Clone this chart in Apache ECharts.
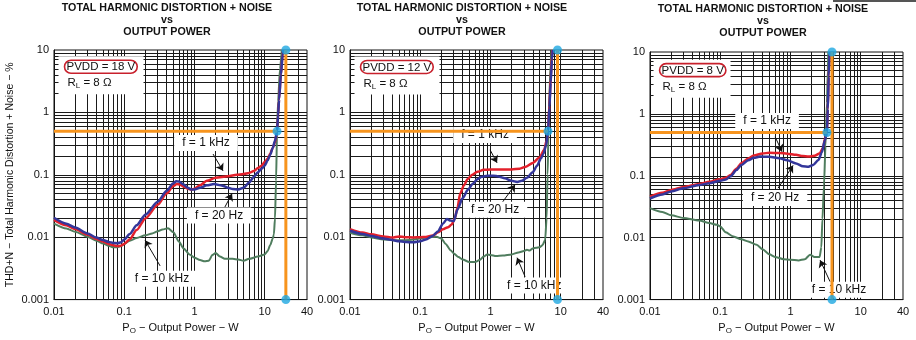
<!DOCTYPE html>
<html><head><meta charset="utf-8">
<script src="https://cdn.jsdelivr.net/npm/echarts@6/dist/echarts.min.js"></script>
<style>html,body{margin:0;padding:0;background:#fff}#c{width:916px;height:340px}</style>
</head><body><div id="c"></div>
<script>
// ---------------- DATA ----------------
const xTicks = [0.01, 0.1, 1, 10, 40];          // Output power, W (log)
const yTicks = [0.001, 0.01, 0.1, 1, 10];       // THD+N, % (log)
const chartTitle = 'TOTAL HARMONIC DISTORTION + NOISE\nvs\nOUTPUT POWER';
const supply = ['18 V', '12 V', '8 V'];
const load = '8 Ω';
const curveNames = ['f = 1 kHz', 'f = 20 Hz', 'f = 10 kHz'];

// PVDD = 18 V
const thd18_1k = [[0.01,0.019],[0.015,0.0155],[0.02,0.0135],[0.03,0.011],[0.04,0.0094],[0.05,0.0085],[0.06,0.0078],[0.07,0.0074],[0.08,0.0072],[0.09,0.0073],[0.1,0.0078],[0.12,0.0093],[0.15,0.013],[0.2,0.02],[0.3,0.033],[0.4,0.05],[0.5,0.066],[0.56,0.071],[0.62,0.07],[0.7,0.065],[0.8,0.06],[0.9,0.058],[1,0.06],[1.2,0.068],[1.5,0.08],[2,0.09],[3,0.095],[4,0.1],[5,0.103],[6,0.107],[7,0.115],[8,0.128],[9,0.14],[10,0.16],[11,0.18],[12,0.22],[13,0.27],[14,0.33],[15,0.5],[15.5,0.9],[16,1.6],[17,4],[18,8.5],[18.4,10]];
const thd18_20 = [[0.01,0.0205],[0.015,0.0165],[0.02,0.0143],[0.03,0.0115],[0.04,0.0099],[0.05,0.009],[0.06,0.0084],[0.07,0.0081],[0.08,0.008],[0.09,0.0083],[0.1,0.0092],[0.12,0.0113],[0.15,0.0155],[0.2,0.023],[0.3,0.037],[0.4,0.055],[0.5,0.073],[0.55,0.079],[0.6,0.078],[0.7,0.07],[0.8,0.062],[0.9,0.058],[1,0.058],[1.2,0.062],[1.5,0.068],[1.9,0.071],[2.5,0.067],[3,0.062],[3.5,0.059],[4.2,0.058],[5,0.062],[6,0.075],[7,0.093],[8,0.11],[9,0.125],[10,0.14],[11,0.17],[12,0.21],[13,0.27],[14,0.35],[15,0.5],[15.5,0.9],[16,1.6],[17,4],[18,8.5],[18.3,10]];
const thd18_10k = [[0.01,0.0165],[0.015,0.0138],[0.02,0.0122],[0.03,0.0102],[0.04,0.0088],[0.05,0.0079],[0.06,0.0073],[0.07,0.0069],[0.08,0.0069],[0.09,0.0072],[0.1,0.0078],[0.12,0.0088],[0.15,0.0097],[0.2,0.0107],[0.25,0.0115],[0.3,0.0124],[0.35,0.0133],[0.42,0.0139],[0.5,0.012],[0.6,0.0085],[0.7,0.0066],[0.85,0.0053],[1,0.0047],[1.2,0.0043],[1.4,0.0041],[1.6,0.0042],[1.8,0.0052],[2,0.0056],[2.3,0.0049],[2.7,0.0045],[3.5,0.0045],[4.2,0.0044],[5,0.0042],[6,0.0045],[8,0.0049],[10,0.0053],[11,0.006],[12,0.0075],[13,0.0095],[13.5,0.011],[14,0.02],[14.5,0.08],[15,0.5],[15.5,1.5],[16.5,5],[17.5,10]];

// PVDD = 12 V
const thd12_1k = [[0.01,0.0135],[0.015,0.0119],[0.02,0.0111],[0.03,0.0103],[0.04,0.0099],[0.05,0.0103],[0.06,0.01],[0.08,0.0099],[0.1,0.01],[0.12,0.0101],[0.15,0.0106],[0.18,0.012],[0.21,0.0134],[0.25,0.0145],[0.28,0.016],[0.31,0.02],[0.34,0.03],[0.37,0.05],[0.42,0.068],[0.47,0.085],[0.55,0.1],[0.65,0.112],[0.8,0.12],[1,0.122],[1.5,0.122],[2,0.122],[2.6,0.125],[3.2,0.135],[4,0.155],[5,0.19],[5.8,0.25],[6.3,0.35],[6.6,0.5],[6.9,1.3],[7.2,3.5],[7.5,8],[7.6,10]];
const thd12_20 = [[0.01,0.0127],[0.015,0.0113],[0.02,0.0105],[0.03,0.0095],[0.04,0.009],[0.05,0.0086],[0.06,0.0084],[0.07,0.0083],[0.08,0.0083],[0.1,0.0086],[0.12,0.0092],[0.15,0.0105],[0.18,0.0125],[0.21,0.0165],[0.24,0.0195],[0.27,0.0185],[0.3,0.018],[0.34,0.028],[0.4,0.042],[0.48,0.058],[0.56,0.072],[0.65,0.085],[0.75,0.093],[0.9,0.097],[1.1,0.097],[1.3,0.094],[1.6,0.088],[2,0.08],[2.4,0.077],[2.8,0.08],[3.3,0.09],[4,0.11],[4.6,0.14],[5.2,0.18],[5.7,0.22],[6.2,0.3],[6.6,0.5],[6.9,1.2],[7.2,3],[7.5,7],[7.7,10]];
const thd12_10k = [[0.01,0.0118],[0.015,0.0107],[0.02,0.0099],[0.03,0.0092],[0.05,0.0089],[0.07,0.009],[0.1,0.0095],[0.13,0.01],[0.17,0.0102],[0.2,0.0095],[0.23,0.0078],[0.27,0.0062],[0.3,0.0055],[0.35,0.0048],[0.4,0.0044],[0.5,0.004],[0.6,0.004],[0.7,0.0043],[0.8,0.0049],[0.9,0.0053],[1,0.0052],[1.2,0.005],[1.5,0.0051],[2,0.0053],[2.5,0.0057],[3,0.006],[3.3,0.0063],[3.6,0.0061],[4,0.0066],[4.5,0.0068],[5,0.0069],[5.5,0.0074],[6,0.009],[6.3,0.02],[6.5,0.1],[6.7,0.5],[6.9,2],[7.2,6],[7.4,10]];

// PVDD = 8 V
const thd8_1k = [[0.01,0.046],[0.015,0.053],[0.02,0.059],[0.03,0.066],[0.05,0.074],[0.07,0.08],[0.1,0.088],[0.12,0.093],[0.14,0.103],[0.17,0.13],[0.2,0.16],[0.25,0.19],[0.3,0.212],[0.4,0.23],[0.5,0.235],[0.7,0.233],[0.9,0.228],[1.2,0.218],[1.5,0.208],[1.8,0.205],[2.2,0.21],[2.6,0.23],[2.9,0.28],[3.1,0.4],[3.3,0.5],[3.4,1.2],[3.5,4],[3.6,10]];
const thd8_20 = [[0.01,0.043],[0.015,0.05],[0.02,0.056],[0.03,0.063],[0.05,0.071],[0.07,0.076],[0.1,0.083],[0.12,0.087],[0.14,0.098],[0.17,0.124],[0.2,0.15],[0.25,0.178],[0.3,0.195],[0.37,0.205],[0.5,0.203],[0.7,0.192],[0.9,0.178],[1.2,0.158],[1.5,0.142],[1.8,0.14],[2.1,0.15],[2.5,0.18],[2.8,0.24],[3.1,0.38],[3.3,0.5],[3.4,1.2],[3.5,4],[3.6,10]];
const thd8_10k = [[0.01,0.03],[0.015,0.026],[0.02,0.023],[0.03,0.0208],[0.05,0.019],[0.07,0.0172],[0.09,0.0162],[0.1,0.0152],[0.12,0.0122],[0.15,0.0106],[0.2,0.0094],[0.25,0.0087],[0.33,0.0077],[0.4,0.0065],[0.5,0.0054],[0.6,0.0049],[0.8,0.0045],[1,0.0044],[1.3,0.0043],[1.6,0.0045],[1.9,0.0053],[2.2,0.0049],[2.6,0.0049],[2.75,0.007],[2.85,0.02],[3,0.07],[3.15,0.3],[3.3,1.5],[3.4,5],[3.45,10]];

// Marked limits
const limitThd = 0.5;                 // %
const limitPower = [20, 9, 3.9];      // W (vertical orange line)
const crossPower = [15, 6.6, 3.3];    // W where curves cross limitThd

// ---------------- LAYOUT / STYLE ----------------
const FONT = '"Liberation Sans", Arial, sans-serif';
const INK = '#111';
const ORANGE = '#f7941d';
const DOT = '#1ea7e1';
const COLORS = {k1: '#e3202b', hz20: '#33369a', k10: '#4f7d5e'};
const gridPos = [
  {left: 54, top: 50, width: 253, height: 251},
  {left: 350, top: 50, width: 253, height: 250},
  {left: 650, top: 52, width: 253, height: 251}
];
const titlePos = [{cx: 167, top: 2}, {cx: 462, top: 2}, {cx: 763, top: 3}];
// Annotation anchors in data coordinates (power W, THD %)
const annot = [
  {box: [0.0467, 3.94], f1k: [1.46, 0.322], a1k: [[1.84, 0.215], [2.55, 0.1156]],
   f20: [2.24, 0.0223], a20: [[2.55, 0.0268], [3.43, 0.0499]],
   f10k: [0.345, 0.00215], a10k: [[0.324, 0.00347], [0.198, 0.00895]]},
  {box: [0.0467, 3.91], f1k: [0.837, 0.436], a1k: [[0.987, 0.251], [1.24, 0.1556]],
   f20: [1.163, 0.0275], a20: [[1.46, 0.0356], [2.24, 0.0692]],
   f10k: [4.2, 0.00168], a10k: [[3.11, 0.00233], [2.39, 0.0047]]},
  {box: [0.0397, 3.71], f1k: [0.464, 0.766], a1k: [[0.604, 0.426], [0.759, 0.2457]],
   f20: [0.604, 0.0438], a20: [[0.666, 0.0632], [1.089, 0.147]],
   f10k: [4.9, 0.00144], a10k: [[3.67, 0.00194], [2.64, 0.00434]]}
];

const curves = [
  [thd18_10k, thd18_1k, thd18_20],
  [thd12_10k, thd12_1k, thd12_20],
  [thd8_10k, thd8_1k, thd8_20]
];
const curveStyle = [
  {name: curveNames[2], color: COLORS.k10, width: 2},
  {name: curveNames[0], color: COLORS.k1, width: 2.5},
  {name: curveNames[1], color: COLORS.hz20, width: 2.5}
];

function logGrid(lo, hi) {
  const out = [];
  for (let e = -4; e <= 2; e++) for (let k = 1; k <= 9; k++) {
    const v = +(k * Math.pow(10, e)).toPrecision(3);
    if (v > lo * 1.0001 && v < hi * 0.9999) out.push(v);
  }
  return out;
}
const fmt = v => String(+(+v).toPrecision(3));

const grid = [], xAxis = [], yAxis = [], series = [], title = [];
for (let i = 0; i < 3; i++) {
  grid.push(Object.assign({show: true, borderColor: INK, borderWidth: 1, backgroundColor: '#fff'}, gridPos[i]));
  title.push({text: chartTitle, left: titlePos[i].cx, top: titlePos[i].top, textAlign: 'center', padding: 0,
    textStyle: {fontFamily: FONT, fontSize: 10.7, fontWeight: 'bold', color: INK, lineHeight: 12}});
  xAxis.push({type: 'log', logBase: 10, gridIndex: i, min: xTicks[0], max: xTicks[xTicks.length - 1],
    axisLine: {show: true, lineStyle: {color: INK, width: 1}}, axisTick: {show: false}, splitLine: {show: false},
    axisLabel: {fontFamily: FONT, fontSize: 11, color: INK, margin: 7, showMinLabel: true, showMaxLabel: true, formatter: fmt},
    name: '{a|P}{s|O}{a| − Output Power − W}', nameLocation: 'middle', nameGap: 19,
    nameTextStyle: {rich: {a: {fontFamily: FONT, fontSize: 11, color: INK}, s: {fontFamily: FONT, fontSize: 8, color: INK, padding: [6, 0, 0, 0]}}}});
  yAxis.push({type: 'log', logBase: 10, gridIndex: i, min: yTicks[0], max: yTicks[yTicks.length - 1],
    axisLine: {show: true, lineStyle: {color: INK, width: 1}}, axisTick: {show: false}, splitLine: {show: false},
    axisLabel: {fontFamily: FONT, fontSize: 11, color: INK, margin: 5, showMinLabel: true, showMaxLabel: true, formatter: fmt},
    name: i === 0 ? 'THD+N − Total Harmonic Distortion + Noise − %' : '', nameLocation: 'middle', nameGap: 38, nameRotate: 90,
    nameTextStyle: {fontFamily: FONT, fontSize: 10.5, color: INK}});

  // log grid lines
  series.push({type: 'line', xAxisIndex: i, yAxisIndex: i, data: [], silent: true, animation: false,
    markLine: {z: 1, silent: true, animation: false, symbol: ['none', 'none'], label: {show: false},
      lineStyle: {color: '#1a1a1a', width: 1, type: 'solid'},
      emphasis: {disabled: true},
      data: [...logGrid(xTicks[0], xTicks[xTicks.length - 1]).map(v => ({xAxis: v})),
             ...logGrid(yTicks[0], yTicks[yTicks.length - 1]).map(v => ({yAxis: v}))]}});

  // curves
  curves[i].forEach((d, k) => {
    series.push({type: 'line', name: curveStyle[k].name, xAxisIndex: i, yAxisIndex: i, data: d, z: 3,
      showSymbol: false, smooth: 0.25, smoothMonotone: 'x', animation: false, silent: true,
      lineStyle: {color: curveStyle[k].color, width: curveStyle[k].width}});
  });

  // annotations
  const A = annot[i];
  const fLabel = txt => ({show: true, position: 'inside', formatter: txt, backgroundColor: '#fff', padding: [1, 8],
    color: INK, fontFamily: FONT, fontSize: 12, lineHeight: 14});
  series.push({type: 'line', xAxisIndex: i, yAxisIndex: i, data: [], silent: true, animation: false,
    markPoint: {z: 7, silent: true, animation: false, symbol: 'rect', symbolSize: 0, data: [
      {coord: A.box, label: {show: true, position: 'inside',
        formatter: '{p|PVDD = ' + supply[i] + '}\n{r0|R}{s|L}{r| = ' + load + '}',
        backgroundColor: '#fff', padding: [2, 3, 3, 6], width: i === 2 ? 68 : 76,
        rich: {
          p: {fontFamily: FONT, fontSize: 11.5, color: INK, borderColor: '#c8202c', borderWidth: 1.6, borderRadius: 8, padding: [1, 2, 0, 2], align: 'left', lineHeight: 17},
          r0: {fontFamily: FONT, fontSize: 11.5, color: INK, align: 'left', lineHeight: 16, padding: [0, 0, 0, 3]},
          r: {fontFamily: FONT, fontSize: 11.5, color: INK, align: 'left', lineHeight: 16},
          s: {fontFamily: FONT, fontSize: 8, color: INK, align: 'left', padding: [6, 0, 0, 0]}
        }}},
      {coord: A.f1k, label: fLabel(curveNames[0])},
      {coord: A.f20, label: fLabel(curveNames[1])},
      {coord: A.f10k, label: fLabel(curveNames[2])}
    ]},
    markLine: {z: 7, silent: true, animation: false, symbol: ['none', 'arrow'], symbolSize: 7, label: {show: false},
      lineStyle: {color: INK, width: 1, type: 'solid'}, emphasis: {disabled: true},
      data: [A.a1k, A.a20, A.a10k].map(p => [{coord: p[0]}, {coord: p[1]}])}
  });

  // orange limit lines and dots
  const oStyle = {type: 'line', xAxisIndex: i, yAxisIndex: i, z: 8, showSymbol: false, silent: true, animation: false,
    lineStyle: {color: ORANGE, width: 3}};
  series.push(Object.assign({data: [[xTicks[0], limitThd], [crossPower[i], limitThd]]}, oStyle));
  series.push(Object.assign({data: [[limitPower[i], yTicks[0]], [limitPower[i], yTicks[yTicks.length - 1]]]}, oStyle));
  series.push({type: 'scatter', xAxisIndex: i, yAxisIndex: i, z: 9, clip: false, silent: true, animation: false,
    symbolSize: 9, itemStyle: {color: DOT},
    data: [[limitPower[i], yTicks[yTicks.length - 1]], [limitPower[i], yTicks[0]], [crossPower[i], limitThd]]});
}

const chart = echarts.init(document.getElementById('c'), null, {renderer: 'canvas'});
chart.setOption({
  animation: false,
  backgroundColor: '#fff',
  title, grid, xAxis, yAxis, series,
  graphic: [{type: 'rect', shape: {x: 833, y: 0, width: 83, height: 2}, style: {fill: '#555'}}]
});
</script></body></html>
